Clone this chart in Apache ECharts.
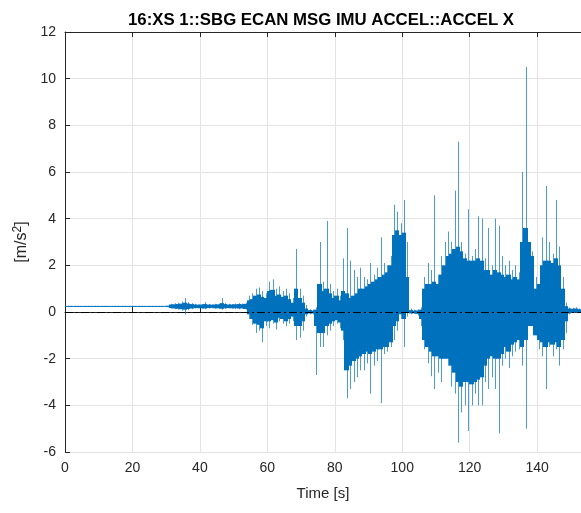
<!DOCTYPE html>
<html>
<head>
<meta charset="utf-8">
<title>ACCEL X</title>
<script src="https://cdn.jsdelivr.net/npm/echarts@6/dist/echarts.min.js"></script>
<style>
  html, body { margin: 0; padding: 0; background: #ffffff; }
  #chart { width: 581px; height: 513px; }
</style>
</head>
<body>
<div id="chart"></div>
<script>
// IMU longitudinal acceleration [m/s^2], reduced to 1 s bins.
// binMax / binMin: extreme samples of each bin (the spikes).
// coreMax / coreMin: band holding the bulk of the samples of each bin.
const binSeconds = 1;

const binMax = [
  0.25, 0.25, 0.25, 0.25, 0.25, 0.25, 0.25, 0.25, 0.25, 0.25,
  0.25, 0.25, 0.25, 0.25, 0.25, 0.25, 0.25, 0.25, 0.25, 0.25,
  0.25, 0.25, 0.25, 0.25, 0.25, 0.25, 0.25, 0.25, 0.25, 0.25,
  0.27, 0.35, 0.38, 0.40, 0.45, 0.60, 0.42, 0.38, 0.35, 0.33,
  0.34, 0.42, 0.34, 0.33, 0.35, 0.36, 0.60, 0.38, 0.35, 0.34,
  0.36, 0.38, 0.36, 0.40, 0.70, 0.80, 1.00, 1.05, 0.90, 0.80,
  1.30, 1.40, 1.00, 1.10, 0.90, 1.00, 0.80, 0.60, 2.70, 1.00,
  0.70, 0.30, 0.12, 0.10, 0.20, 3.00, 1.30, 3.90, 1.20, 0.90,
  1.00, 0.70, 2.30, 3.60, 2.20, 1.80, 1.50, 1.90, 1.50, 1.40,
  2.10, 1.60, 1.90, 3.20, 2.10, 2.00, 2.40, 4.60, 4.30, 3.80,
  4.80, 3.00, 0.15, 0.10, 0.12, 0.20, 1.50, 2.10, 1.80, 5.00,
  1.60, 2.40, 3.00, 3.45, 3.00, 5.20, 7.30, 3.00, 2.50, 4.40,
  2.40, 2.70, 4.10, 4.00, 2.30, 3.60, 2.00, 4.00, 3.70, 2.40,
  2.00, 2.20, 1.80, 2.00, 1.70, 6.00, 10.50, 3.00, 2.60, 1.50,
  1.20, 3.20, 5.40, 3.00, 2.50, 4.80, 2.80, 1.50, 0.40, 0.20,
  0.18, 0.20, 0.15
];

const binMin = [
  0.23, 0.23, 0.23, 0.23, 0.23, 0.23, 0.23, 0.23, 0.23, 0.23,
  0.23, 0.23, 0.23, 0.23, 0.23, 0.23, 0.23, 0.23, 0.23, 0.23,
  0.23, 0.23, 0.23, 0.23, 0.23, 0.23, 0.23, 0.23, 0.23, 0.23,
  0.21, 0.15, 0.12, 0.10, 0.05, -0.10, 0.08, 0.12, 0.15, 0.15,
  0.14, 0.12, 0.15, 0.16, 0.14, 0.13, 0.10, 0.14, 0.15, 0.14,
  0.13, 0.12, 0.14, 0.10, -0.30, -0.55, -0.90, -0.80, -1.30, -0.60,
  -0.70, -0.50, -0.75, -0.40, -0.50, -0.60, -0.50, -0.40, -1.20, -1.10,
  -0.80, -0.20, -0.10, -0.10, -2.70, -1.50, -1.50, -1.00, -0.80, -0.60,
  -0.50, -0.70, -1.20, -3.70, -3.30, -3.00, -2.80, -2.50, -2.50, -2.20,
  -3.50, -2.30, -2.10, -3.90, -1.80, -1.70, -1.50, -1.20, -0.80, -0.30,
  -1.50, -0.20, -0.10, -0.08, -0.15, -0.60, -1.60, -2.20, -2.75, -3.30,
  -2.60, -3.00, -2.00, -2.30, -3.20, -3.50, -5.60, -4.30, -4.00, -5.10,
  -4.00, -3.50, -4.00, -4.00, -3.00, -3.30, -2.80, -3.30, -5.20, -2.30,
  -2.00, -2.40, -1.90, -1.70, -1.60, -2.30, -5.00, -0.50, -0.40, -1.00,
  -1.60, -1.90, -3.30, -1.50, -1.90, -1.60, -2.30, -1.60, -0.90, -0.10,
  -0.05, -0.05, -0.05
];

const coreMax = [
  0.25, 0.25, 0.25, 0.25, 0.25, 0.25, 0.25, 0.25, 0.25, 0.25,
  0.25, 0.25, 0.25, 0.25, 0.25, 0.25, 0.25, 0.25, 0.25, 0.25,
  0.25, 0.25, 0.25, 0.25, 0.25, 0.25, 0.25, 0.25, 0.25, 0.25,
  0.27, 0.32, 0.33, 0.34, 0.36, 0.40, 0.36, 0.34, 0.32, 0.31,
  0.32, 0.34, 0.32, 0.31, 0.32, 0.33, 0.38, 0.34, 0.32, 0.32,
  0.33, 0.34, 0.33, 0.35, 0.50, 0.55, 0.70, 0.75, 0.65, 0.60,
  0.90, 0.95, 0.70, 0.75, 0.65, 0.70, 0.55, 0.40, 1.00, 0.60,
  0.40, 0.15, 0.08, 0.06, 0.10, 1.20, 0.90, 1.00, 0.80, 0.60,
  0.70, 0.50, 0.90, 0.80, 0.60, 0.70, 0.80, 1.00, 1.00, 1.10,
  1.20, 1.30, 1.40, 1.50, 1.60, 1.70, 2.00, 3.30, 3.50, 3.30,
  3.40, 1.50, 0.08, 0.06, 0.07, 0.10, 1.00, 1.20, 1.20, 1.30,
  1.20, 1.60, 2.00, 2.40, 2.50, 2.70, 2.80, 2.60, 2.30, 2.20,
  2.20, 2.20, 2.30, 2.20, 1.80, 1.80, 1.60, 1.80, 1.70, 1.60,
  1.50, 1.60, 1.40, 1.50, 1.40, 3.00, 3.60, 3.00, 2.40, 1.00,
  1.20, 2.00, 2.20, 2.20, 2.10, 2.30, 2.00, 1.00, 0.25, 0.15,
  0.14, 0.15, 0.12
];

const coreMin = [
  0.23, 0.23, 0.23, 0.23, 0.23, 0.23, 0.23, 0.23, 0.23, 0.23,
  0.23, 0.23, 0.23, 0.23, 0.23, 0.23, 0.23, 0.23, 0.23, 0.23,
  0.23, 0.23, 0.23, 0.23, 0.23, 0.23, 0.23, 0.23, 0.23, 0.23,
  0.21, 0.17, 0.15, 0.14, 0.12, 0.10, 0.13, 0.15, 0.17, 0.17,
  0.16, 0.15, 0.17, 0.18, 0.16, 0.16, 0.14, 0.16, 0.17, 0.16,
  0.16, 0.15, 0.16, 0.13, -0.10, -0.30, -0.50, -0.55, -0.70, -0.40,
  -0.40, -0.35, -0.45, -0.25, -0.30, -0.40, -0.30, -0.20, -0.60, -0.60,
  -0.40, -0.10, -0.06, -0.06, -0.60, -0.90, -0.90, -0.60, -0.50, -0.40,
  -0.35, -0.45, -0.80, -2.50, -2.30, -2.10, -2.00, -1.90, -1.80, -1.70,
  -1.80, -1.70, -1.60, -1.60, -1.50, -1.50, -1.30, -0.60, -0.40, -0.10,
  -0.30, 0.00, -0.06, -0.05, -0.08, -0.30, -1.20, -1.50, -1.70, -1.90,
  -1.90, -2.00, -2.00, -2.00, -2.30, -2.60, -3.00, -3.20, -3.00, -3.00,
  -3.10, -3.00, -2.90, -2.80, -2.30, -2.00, -1.90, -2.00, -2.00, -1.80,
  -1.50, -1.70, -1.40, -1.30, -1.20, -1.50, -1.20, -0.60, -0.60, -1.00,
  -1.20, -1.30, -1.50, -1.30, -1.40, -1.30, -1.50, -1.20, -0.40, -0.06,
  -0.02, -0.02, -0.02
];

const xTicks = { min: 0, max: 153, step: 20 };
const yTicks = { min: -6, max: 12, step: 2 };

const titleText = '16:XS 1::SBG ECAN MSG IMU ACCEL::ACCEL X';
const xName = 'Time [s]';

// One row per bin: [binStart, max, min, coreMax, coreMin]
const bins = binMax.map(function (hi, i) {
  return [i * binSeconds, hi, binMin[i], coreMax[i], coreMin[i]];
});

const lineColor = '#0072BD';
const axisColor = '#262626';
const gridColor = '#e3e3e3';
const font = 'Liberation Sans, Arial, Helvetica, sans-serif';

// Each bin: a filled band for the bulk of the samples and a thin stroke out to the extremes.
function renderBin(params, api) {
  const t = api.value(0);
  const left = Math.floor(api.coord([t, 0])[0]);
  const right = Math.ceil(api.coord([t + binSeconds, 0])[0]);
  const mid = Math.round((left + right) / 2) + 0.5;
  const yHi = api.coord([t, api.value(1)])[1];
  const yLo = api.coord([t, api.value(2)])[1];
  let cHi = api.coord([t, api.value(3)])[1];
  let cLo = api.coord([t, api.value(4)])[1];
  if (cLo - cHi < 1) {
    const c = (cLo + cHi) / 2;
    cHi = c - 0.5;
    cLo = c + 0.5;
  }
  const cs = params.coordSys;
  return {
    type: 'group',
    children: [
      {
        type: 'rect',
        shape: { x: left, y: cHi, width: right - left, height: cLo - cHi },
        style: { fill: lineColor }
      },
      {
        type: 'line',
        shape: { x1: mid, y1: yHi, x2: mid, y2: yLo },
        style: { stroke: lineColor, lineWidth: 1, opacity: 0.7 }
      }
    ],
    clipPath: { type: 'rect', shape: { x: cs.x, y: cs.y, width: cs.width, height: cs.height } }
  };
}

const chart = echarts.init(document.getElementById('chart'), null, { renderer: 'canvas' });

chart.setOption({
  animation: false,
  backgroundColor: '#ffffff',
  title: {
    text: titleText,
    left: 316,
    top: 7,
    textAlign: 'center',
    textStyle: { fontFamily: font, fontSize: 16.8, fontWeight: 'bold', color: '#000000' }
  },
  grid: { left: 65, right: 0, top: 32, bottom: 61, containLabel: false },
  xAxis: [
    {
      type: 'value',
      min: xTicks.min,
      max: xTicks.max,
      interval: xTicks.step,
      position: 'bottom',
      name: xName,
      nameLocation: 'middle',
      nameGap: 34,
      nameTextStyle: { fontFamily: font, fontSize: 15, color: axisColor },
      axisLine: { show: true, lineStyle: { color: axisColor, width: 1 } },
      axisTick: { show: true, inside: true, length: 5, lineStyle: { color: axisColor } },
      axisLabel: { fontFamily: font, fontSize: 14, color: axisColor, margin: 9, showMaxLabel: false },
      splitLine: { show: true, lineStyle: { color: gridColor, width: 1 } }
    },
    {
      type: 'value',
      min: xTicks.min,
      max: xTicks.max,
      interval: xTicks.step,
      position: 'top',
      axisLine: { show: true, lineStyle: { color: axisColor, width: 1 } },
      axisTick: { show: true, inside: true, length: 5, lineStyle: { color: axisColor } },
      axisLabel: { show: false },
      splitLine: { show: false }
    }
  ],
  yAxis: {
    type: 'value',
    min: yTicks.min,
    max: yTicks.max,
    interval: yTicks.step,
    name: '[m/s{sup|2}]',
    nameLocation: 'middle',
    nameGap: 32,
    nameRotate: 90,
    nameTextStyle: {
      fontFamily: font, fontSize: 16, color: axisColor,
      rich: { sup: { fontFamily: font, fontSize: 12, color: axisColor, verticalAlign: 'top', padding: [0, 0, 8, 0] } }
    },
    axisLine: { show: true, lineStyle: { color: axisColor, width: 1 } },
    axisTick: { show: true, inside: true, length: 5, lineStyle: { color: axisColor } },
    axisLabel: { fontFamily: font, fontSize: 14, color: axisColor, margin: 9 },
    splitLine: { show: true, lineStyle: { color: gridColor, width: 1 } }
  },
  series: [
    {
      type: 'custom',
      xAxisIndex: 0,
      renderItem: renderBin,
      encode: { x: 0, y: [1, 2, 3, 4] },
      data: bins,
      z: 2
    },
    {
      type: 'line',
      xAxisIndex: 0,
      data: [],
      silent: true,
      markLine: {
        silent: true,
        symbol: 'none',
        label: { show: false },
        lineStyle: { color: '#000000', width: 1, type: [8, 3, 2, 3] },
        data: [{ yAxis: 0 }]
      },
      z: 5
    }
  ]
});
</script>
</body>
</html>
